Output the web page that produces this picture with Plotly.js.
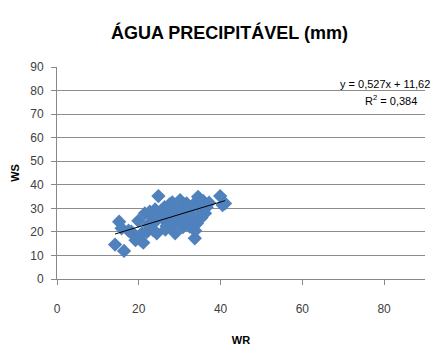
<!DOCTYPE html>
<html>
<head>
<meta charset="utf-8">
<script src="https://cdn.plot.ly/plotly-3.0.1.min.js"></script>
<style>html,body{margin:0;padding:0;background:#fff;}#chart{width:443px;height:346px;}</style>
</head>
<body>
<div id="chart"></div>
<script>
// WR (x) and WS (y) values
const wr = [14.2,16.4,15.2,15.8,17.5,18.2,18.7,19.2,19.9,20.3,21.1,21.5,22.0,22.7,23.2,23.5,24.0,24.4,24.8,25.0,25.5,26.0,26.3,26.8,27.2,27.6,28.0,28.4,28.9,29.2,29.6,30.1,30.5,31.0,31.3,31.7,32.1,32.5,33.0,33.3,33.7,34.2,34.5,34.9,35.3,35.8,36.2,36.6,37.2,39.9,40.5,41.1,23.8,26.5,28.2,30.8,35.5,22.3,20.8,33.8];
const ws = [14.6,11.9,24.3,21.5,20.5,20.1,18.7,16.5,24.7,16.8,15.4,27.9,20.0,28.6,26.5,20.8,29.5,19.4,35.2,27.0,29.0,25.5,30.5,22.5,28.0,31.8,26.5,23.6,19.4,29.0,25.0,33.5,27.5,30.5,24.5,32.1,29.0,22.2,27.0,31.5,17.3,23.6,34.9,30.0,26.0,33.0,27.9,30.5,32.4,35.2,31.4,32.1,24.0,21.0,32.5,22.0,28.5,23.0,19.5,20.5];
const slope = 0.527, intercept = 11.62;
const trendX = [Math.min(...wr), Math.max(...wr)];
const trendY = trendX.map(x => slope * x + intercept);
const xTicks = [0, 20, 40, 60, 80];
const yTicks = [0, 10, 20, 30, 40, 50, 60, 70, 80, 90];
const titleText = "ÁGUA PRECIPITÁVEL (mm)";
const eqText = "y = 0,527x + 11,62";
const r2Text = "R<sup>2</sup> = 0,384";

const fam = "'Liberation Sans', Arial, sans-serif";

const data = [
  {x: wr, y: ws, type: 'scatter', mode: 'markers',
   marker: {symbol: 'diamond', size: 11, color: '#4F81BD', line: {width: 0}}},
  {x: trendX, y: trendY, type: 'scatter', mode: 'lines',
   line: {color: '#000000', width: 1}}
];

const layout = {
  width: 443, height: 346,
  margin: {l: 57, r: 18, t: 67, b: 67},
  paper_bgcolor: '#fff', plot_bgcolor: '#fff',
  showlegend: false,
  title: {text: titleText, x: 0.518, xref: 'container', xanchor: 'center',
          y: 0.905, yref: 'container', yanchor: 'middle',
          font: {family: fam, size: 18, color: '#000', weight: 'bold'}},
  xaxis: {range: [0, 90], tickvals: xTicks, showgrid: false, zeroline: false,
          showline: true, linecolor: '#888', linewidth: 1,
          ticks: 'outside', ticklen: 5, tickcolor: '#888',
          ticklabelstandoff: 14,
          tickfont: {family: fam, size: 12, color: '#404040'},
          title: {text: 'WR', standoff: 24, font: {family: fam, size: 11, color: '#000', weight: 'bold'}}},
  yaxis: {range: [0, 90], tickvals: yTicks, showgrid: true, gridcolor: '#8c8c8c', gridwidth: 1,
          zeroline: false, showline: true, linecolor: '#888', linewidth: 1,
          ticks: 'outside', ticklen: 5, tickcolor: '#888',
          ticklabelstandoff: 5,
          tickfont: {family: fam, size: 12, color: '#404040'},
          title: {text: 'WS', standoff: 8, font: {family: fam, size: 11, color: '#000', weight: 'bold'}}},
  annotations: [
    {text: eqText, xref: 'paper', yref: 'paper', x: 1.02, y: 0.92, xanchor: 'right', yanchor: 'middle',
     showarrow: false, font: {family: fam, size: 11, color: '#000'}},
    {text: r2Text, xref: 'paper', yref: 'paper', x: 0.985, y: 0.845, xanchor: 'right', yanchor: 'middle',
     showarrow: false, font: {family: fam, size: 11, color: '#000'}}
  ]
};

Plotly.newPlot('chart', data, layout, {displayModeBar: false, staticPlot: true});
</script>
</body>
</html>
